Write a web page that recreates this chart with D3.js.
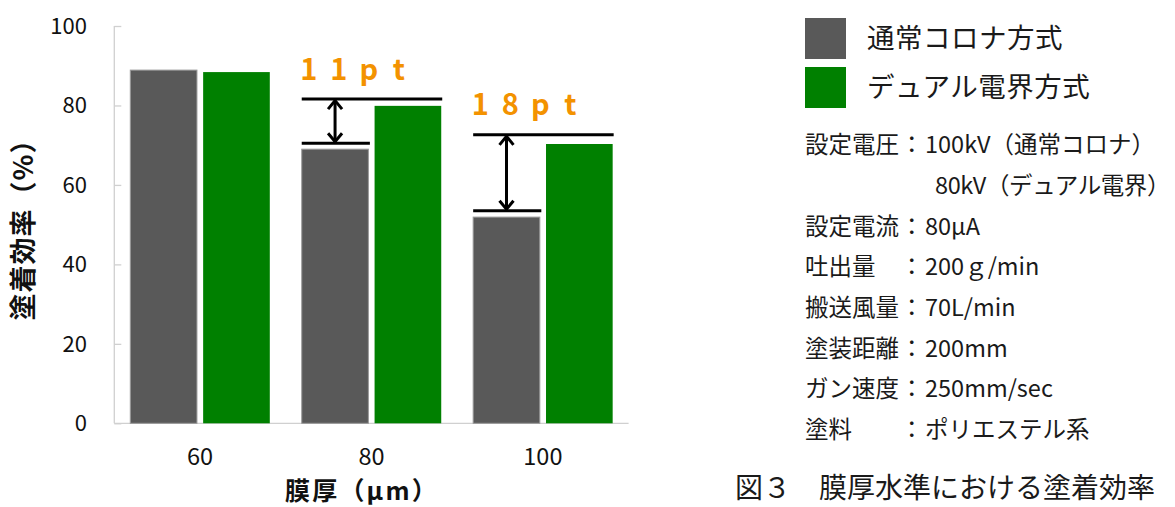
<!DOCTYPE html>
<html lang="ja">
<head>
<meta charset="utf-8">
<script src="https://cdn.jsdelivr.net/npm/d3@7"></script>
<style>
  html, body { margin: 0; padding: 0; background: #fff; }
  svg { display: block; font-family: "Noto Sans CJK JP", "Noto Sans", sans-serif; }
</style>
</head>
<body>
<svg id="chart" width="1175" height="507"></svg>
<script>
// Film thickness levels (µm)
const thickness = [60, 80, 100];
// Series names
const seriesNames = ["通常コロナ方式", "デュアル電界方式"];
// Transfer efficiency (%) per film thickness
const coronaValues = [88.9, 69.0, 51.9];
const dualValues = [88.4, 79.9, 70.3];
// Bracket levels marking the gain (lower, upper) for 80 and 100 µm
const gainThickness = [80, 100];
const gainLower = [70.5, 53.5];
const gainUpper = [81.6, 72.6];
const gainLabels = ["11pt", "18pt"];
// Y-axis ticks
const yTicks = [0, 20, 40, 60, 80, 100];
// Test conditions
const condLabels = ["設定電圧", "", "設定電流", "吐出量", "搬送風量", "塗装距離", "ガン速度", "塗料"];
const condValues = ["100kV（通常コロナ）", "80kV（デュアル電界）", "80μA", "200ｇ/min", "70L/min", "200mm", "250mm/sec", "ポリエステル系"];
const caption = "図３　膜厚水準における塗着効率";

const colors = ["#595959", "#008000"];
const orange = "#f39200";
const axisColor = "#d0d0d0";

const svg = d3.select("#chart");

const x = d3.scaleBand().domain(thickness).range([114.3, 628.6]).padding(0);
const xs = d3.scaleBand().domain([0, 1]).range([16, 155.5]).paddingInner(0.085);
const y = d3.scaleLinear().domain([0, 100]).range([423.3, 26]);

// Axis lines
svg.append("line").attr("x1", x.range()[0]).attr("x2", x.range()[0])
  .attr("y1", y(0)).attr("y2", y(100)).attr("stroke", axisColor).attr("stroke-width", 1.3);
svg.append("line").attr("x1", x.range()[0]).attr("x2", x.range()[1])
  .attr("y1", y(0)).attr("y2", y(0)).attr("stroke", axisColor).attr("stroke-width", 1.3);

// Y ticks (inward) and labels
const yAxis = d3.axisRight(y).tickValues(yTicks).tickSize(7).tickFormat("");
const yg = svg.append("g").attr("transform", `translate(${x.range()[0]},0)`).call(yAxis);
yg.select(".domain").remove();
yg.selectAll(".tick line").attr("stroke", axisColor).attr("stroke-width", 1.3);

svg.append("g").selectAll("text").data(yTicks).join("text")
  .attr("x", 87).attr("y", d => y(d)).attr("dy", "0.35em")
  .attr("text-anchor", "end").attr("font-size", 22).attr("fill", "#111")
  .text(d => d);

// X tick labels
svg.append("g").selectAll("text").data(thickness).join("text")
  .attr("x", d => x(d) + x.bandwidth() / 2).attr("y", 457).attr("dy", "0.35em")
  .attr("text-anchor", "middle").attr("font-size", 23.5).attr("fill", "#111")
  .text(d => d);

// Bars
const series = [coronaValues, dualValues];
series.forEach((vals, si) => {
  svg.append("g").selectAll("rect").data(thickness).join("rect")
    .attr("x", d => x(d) + xs(si))
    .attr("width", xs.bandwidth())
    .attr("y", (d, i) => y(vals[i]))
    .attr("height", (d, i) => y(0) - y(vals[i]))
    .attr("fill", colors[si])
    .attr("stroke", si === 0 ? "#9a9a9a" : "none")
    .attr("stroke-width", si === 0 ? 1 : 0);
});

// Gain brackets with double arrows and spaced-out labels
gainThickness.forEach((t, i) => {
  const g = svg.append("g").attr("stroke", "#000").attr("stroke-width", 3).attr("fill", "none");
  const x0 = x(t) + xs(0);
  const xMid = x0 + xs.bandwidth() / 2;
  const xEnd = x(t) + xs(1) + xs.bandwidth() + 1;
  const yLo = y(gainLower[i]);
  const yUp = y(gainUpper[i]);
  g.append("line").attr("x1", x0).attr("x2", xEnd).attr("y1", yUp).attr("y2", yUp);
  g.append("line").attr("x1", x0).attr("x2", x0 + xs.bandwidth() + 1.5).attr("y1", yLo).attr("y2", yLo);
  g.append("line").attr("x1", xMid).attr("x2", xMid).attr("y1", yUp + 1.5).attr("y2", yLo - 1.5);
  g.append("path").attr("d", `M${xMid - 7},${yUp + 10} L${xMid},${yUp + 1.5} L${xMid + 7},${yUp + 10}`);
  g.append("path").attr("d", `M${xMid - 7},${yLo - 10} L${xMid},${yLo - 1.5} L${xMid + 7},${yLo - 10}`);

  const label = svg.append("text")
    .attr("y", yUp - 19.5)
    .attr("text-anchor", "middle")
    .attr("font-size", 29).attr("font-weight", "bold").attr("fill", orange);
  label.selectAll("tspan").data(Array.from(gainLabels[i])).join("tspan")
    .attr("x", (c, k) => x0 + 7.2 + k * 30)
    .text(c => c);
});

// Axis titles
svg.append("text")
  .attr("transform", "translate(33,223) rotate(-90)")
  .attr("text-anchor", "middle").attr("font-size", 27).attr("font-weight", "bold").attr("fill", "#111")
  .attr("letter-spacing", 1)
  .text("塗着効率（%）");
svg.append("text")
  .attr("x", 285).attr("y", 500)
  .attr("font-size", 25).attr("font-weight", "bold").attr("fill", "#111")
  .attr("letter-spacing", 2.2)
  .text("膜厚（μm）");

// Legend
const legend = svg.append("g");
seriesNames.forEach((name, i) => {
  legend.append("rect").attr("x", 805).attr("y", 18 + i * 49).attr("width", 41).attr("height", 41)
    .attr("fill", colors[i]);
  legend.append("text").attr("x", 867).attr("y", 38.5 + i * 49).attr("dy", "0.35em")
    .attr("font-size", 27.5).attr("fill", "#1a1a1a").attr("letter-spacing", 0.5).text(name);
});

// Conditions block
const cond = svg.append("g").attr("font-size", 23.5).attr("fill", "#1a1a1a");
condLabels.forEach((lab, i) => {
  const cy = 145 + i * 40.7;
  if (lab) {
    cond.append("text").attr("x", 805).attr("y", cy).attr("dy", "0.35em").text(lab);
    cond.append("text").attr("x", 900).attr("y", cy).attr("dy", "0.35em").text("：");
    cond.append("text").attr("x", 925).attr("y", cy).attr("dy", "0.35em").text(condValues[i]);
  } else {
    cond.append("text").attr("x", 935).attr("y", cy).attr("dy", "0.35em")
      .attr("letter-spacing", -0.4).text(condValues[i]);
  }
});

// Figure caption
svg.append("text").attr("x", 735).attr("y", 488).attr("dy", "0.35em")
  .attr("font-size", 28).attr("fill", "#1a1a1a").text(caption);
</script>
</body>
</html>
